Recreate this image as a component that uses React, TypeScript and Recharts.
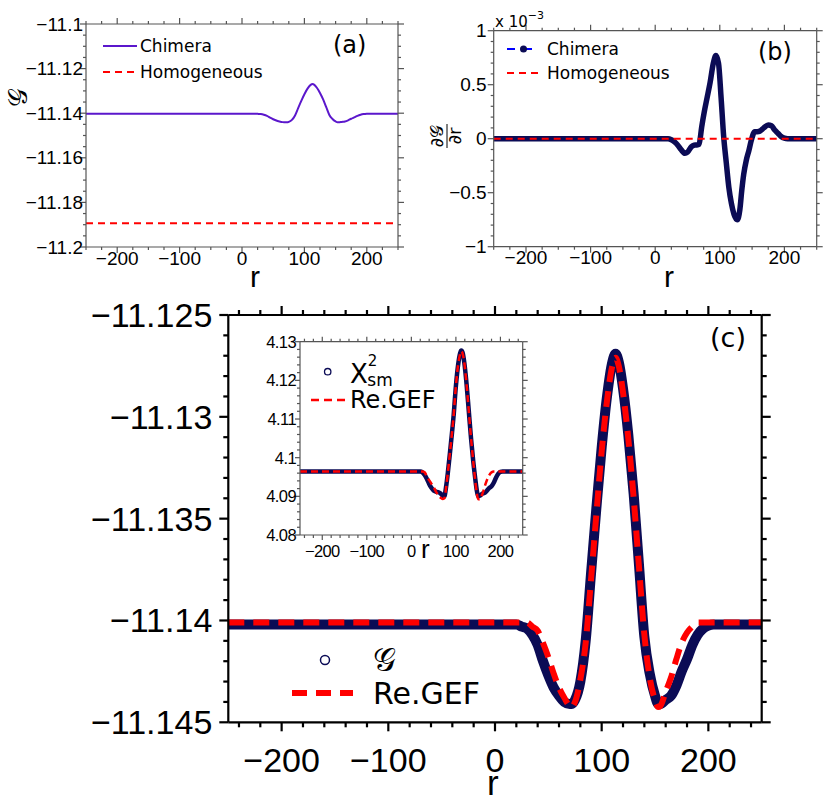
import React from 'react';
import { LineChart, Line, XAxis, YAxis } from 'recharts';

// ---- panel (a) / (c): G(r) for the chimera state and the Re.GEF fit
const rG = [
  -250, -200, -150, -100, -50, 0, 15, 20, 25, 30, 35, 40, 45, 50, 55, 60, 65, 70, 72, 75, 80, 85, 90, 95, 100,
  105, 110, 113, 116, 120, 125, 130, 135, 140, 145, 150, 153, 155, 160, 165, 170, 175, 180, 185, 190, 195, 200,
  205, 210, 220, 250,
];
const gChimera = [
  -11.1402, -11.1402, -11.1402, -11.1402, -11.1402, -11.1402, -11.1402, -11.1402, -11.1403, -11.1404, -11.1407,
  -11.1412, -11.142, -11.1427, -11.1433, -11.1437, -11.144, -11.1441, -11.1441, -11.1439, -11.143, -11.141,
  -11.1377, -11.1345, -11.1315, -11.129, -11.1273, -11.1269, -11.1273, -11.1286, -11.1309, -11.1338, -11.1373,
  -11.1408, -11.1426, -11.1437, -11.1441, -11.1441, -11.1439, -11.1437, -11.1432, -11.1425, -11.1419, -11.1412,
  -11.1407, -11.1404, -11.14025, -11.1402, -11.1402, -11.1402, -11.1402,
];
const gGEF = [
  -11.1401, -11.1401, -11.1401, -11.1401, -11.1401, -11.1401, -11.1401, -11.1401, -11.1401, -11.1401, -11.1403,
  -11.1405, -11.1411, -11.1418, -11.1426, -11.1433, -11.1438, -11.1442, -11.14425, -11.144, -11.1429, -11.1411,
  -11.138, -11.1348, -11.1317, -11.1292, -11.1275, -11.1271, -11.1275, -11.1288, -11.1311, -11.134, -11.1374,
  -11.1407, -11.1428, -11.1439, -11.14425, -11.1442, -11.1435, -11.1428, -11.1419, -11.1411, -11.1406, -11.1403,
  -11.1401, -11.1401, -11.1401, -11.1401, -11.1401, -11.1401, -11.1401,
];
const rHom = [-250, 250];
const gHomogeneous = [-11.1893, -11.1893];

// ---- panel (b): dG/dr, in units of 1e-3
const rB = [
  -250, -150, -50, 0, 10, 20, 25, 30, 35, 40, 46, 50, 56, 60, 64, 68, 72, 76, 80, 85, 90, 94, 98, 102, 106, 110,
  114, 118, 122, 127, 131, 134, 137, 141, 145, 149, 154, 158, 162, 168, 175, 180, 185, 190, 195, 200, 205, 210, 250,
];
const dGdr = [
  0, 0, 0, 0, 0, 0, -0.01, -0.03, -0.06, -0.1, -0.135, -0.125, -0.075, -0.06, -0.058, -0.05, 0.11, 0.25, 0.37,
  0.52, 0.7, 0.77, 0.7, 0.38, 0.02, -0.22, -0.45, -0.6, -0.7, -0.75, -0.66, -0.48, -0.33, -0.2, -0.11, -0.01,
  0.065, 0.065, 0.07, 0.1, 0.127, 0.12, 0.08, 0.05, 0.02, 0.005, 0, 0, 0,
];
const dHomogeneous = [0, 0];

// ---- inset: X^2_sm and Re.GEF
const rIn = [
  -250, -150, -50, 0, 15, 20, 25, 30, 35, 40, 45, 50, 55, 60, 65, 70, 74, 78, 82, 86, 90, 95, 100, 105, 110, 112,
  115, 119, 124, 129, 134, 139, 143, 147, 150, 154, 158, 162, 166, 170, 175, 180, 185, 190, 195, 200, 205, 250,
];
const x2sm = [
  4.0964, 4.0964, 4.0964, 4.0964, 4.0964, 4.0964, 4.0962, 4.0955, 4.0945, 4.0932, 4.0922, 4.0915, 4.0912, 4.0911,
  4.0908, 4.0902, 4.09, 4.0925, 4.0962, 4.1005, 4.105, 4.111, 4.1185, 4.124, 4.1272, 4.1277, 4.1272, 4.1245,
  4.119, 4.112, 4.105, 4.099, 4.095, 4.0915, 4.09, 4.0902, 4.0906, 4.0908, 4.091, 4.0915, 4.0922, 4.0926, 4.0935,
  4.0948, 4.0958, 4.0963, 4.0964, 4.0964,
];
const x2GEF = [
  4.0964, 4.0964, 4.0964, 4.0964, 4.0964, 4.0964, 4.0964, 4.0962, 4.095, 4.0942, 4.0933, 4.0924, 4.0913, 4.0903,
  4.0897, 4.0893, 4.0895, 4.0922, 4.0962, 4.1005, 4.105, 4.111, 4.1185, 4.124, 4.127, 4.1275, 4.127, 4.1245, 4.119,
  4.112, 4.105, 4.099, 4.0945, 4.0908, 4.0893, 4.0892, 4.0902, 4.0915, 4.093, 4.0943, 4.0955, 4.0962, 4.0964,
  4.0964, 4.0964, 4.0964, 4.0964, 4.0964,
];

// ---- ticks
const xMajor = [-200, -100, 0, 100, 200];
const yMajorA = [-11.2, -11.18, -11.16, -11.14, -11.12, -11.1];
const yMajorB = [-1, -0.5, 0, 0.5, 1];
const yMajorC = [-11.145, -11.14, -11.135, -11.13, -11.125];
const yMajorIn = [4.08, 4.09, 4.1, 4.11, 4.12, 4.13];

const NAVY = '#0b0b55';
const PURPLE = '#5b17cc';
const RED = '#ff0000';
const SANS = '"Liberation Sans", Arial, sans-serif';
const DEJA = '"DejaVu Sans", sans-serif';

const steps = (a: number, b: number, d: number) =>
  Array.from({ length: Math.round((b - a) / d) + 1 }, (_, i) => +(a + i * d).toFixed(6));

const rows = (xs: number[], vs: number[]) => xs.map((r, i) => ({ r, v: vs[i] }));

const fmt = (v: number) => String(+v.toFixed(4)).replace('-', '\u2212');

type Side = 'bottom' | 'left' | 'top' | 'right';
type Style = {
  majLen: number;
  minLen: number;
  color: string;
  lw: number;
  fs: number;
  ff: string;
  xOff: number;
  yOff: number;
  ls?: number;
};

const tickFor = (side: Side, majors: number[], s: Style, labels: boolean) => (props: any) => {
  const { x, y, payload } = props;
  const v = payload.value;
  const big = majors.some((m) => Math.abs(m - v) < 1e-7);
  const len = big ? s.majLen : s.minLen;
  const dx = side === 'left' ? -1 : side === 'right' ? 1 : 0;
  const dy = side === 'bottom' ? 1 : side === 'top' ? -1 : 0;
  return (
    <g>
      <line x1={x} y1={y} x2={x + dx * len} y2={y + dy * len} stroke={s.color} strokeWidth={s.lw} />
      {labels && big && (
        <text
          x={side === 'left' ? x - s.yOff : x}
          y={side === 'bottom' ? y + s.xOff : y}
          textAnchor={side === 'left' ? 'end' : 'middle'}
          dominantBaseline="central"
          fontSize={s.fs}
          fontFamily={s.ff}
          letterSpacing={s.ls}
          fill="#000"
        >
          {fmt(v)}
        </text>
      )}
    </g>
  );
};

// four framed axes with outward major/minor ticks; each axis is 1px thick,
// so chart margins are the plot edges minus 1
function frame(
  xDom: [number, number],
  yDom: [number, number],
  xTicks: number[],
  yTicks: number[],
  xMaj: number[],
  yMaj: number[],
  s: Style,
  firstSeries: { r: number; v: number }[]
) {
  const axisLine = { stroke: s.color, strokeWidth: s.lw };
  const common = { tickSize: 0, tickMargin: 0, tickLine: false, interval: 0 as const, allowDataOverflow: true, axisLine };
  return [
    <XAxis key="xb" xAxisId="b" type="number" dataKey="r" domain={xDom} ticks={xTicks} height={1} orientation="bottom" tick={tickFor('bottom', xMaj, s, true)} {...common} />,
    <XAxis key="xt" xAxisId="t" type="number" dataKey="r" domain={xDom} ticks={xTicks} height={1} orientation="top" tick={tickFor('top', xMaj, s, false)} {...common} />,
    <YAxis key="yl" yAxisId="l" type="number" domain={yDom} ticks={yTicks} width={1} orientation="left" tick={tickFor('left', yMaj, s, true)} {...common} />,
    <YAxis key="yr" yAxisId="rt" type="number" domain={yDom} ticks={yTicks} width={1} orientation="right" tick={tickFor('right', yMaj, s, false)} {...common} />,
    <Line key="dummy" xAxisId="t" yAxisId="rt" data={firstSeries} dataKey="v" stroke="none" dot={false} isAnimationActive={false} />,
  ];
}

const styleTop: Style = { majLen: 6, minLen: 3, color: '#555', lw: 1.2, fs: 19, ff: SANS, xOff: 11, yOff: 3 };
const styleB: Style = { ...styleTop, yOff: 7 };
const styleC: Style = { majLen: 9, minLen: 5, color: '#000', lw: 2.2, fs: 34, ff: SANS, xOff: 38, yOff: 16 };
const styleIn: Style = { majLen: 5, minLen: 3, color: '#555', lw: 1.2, fs: 16.5, ff: SANS, xOff: 16, yOff: 4, ls: -0.6 };

function PanelA() {
  const g = rows(rG, gChimera);
  return (
    <LineChart width={415} height={290} margin={{ top: 23, right: 16, bottom: 42, left: 85 }}>
      {frame([-250, 250], [-11.2, -11.1], steps(-250, 250, 25), steps(-11.2, -11.1, 0.005), xMajor, yMajorA, styleTop, g)}
      <Line xAxisId="b" yAxisId="l" data={rows(rHom, gHomogeneous)} dataKey="v" stroke={RED} strokeWidth={2} strokeDasharray="7 5" dot={false} isAnimationActive={false} />
      <Line xAxisId="b" yAxisId="l" data={g} dataKey="v" type="monotone" stroke={PURPLE} strokeWidth={2} dot={false} isAnimationActive={false} />
    </LineChart>
  );
}

function PanelB() {
  const d = rows(rB, dGdr);
  return (
    <LineChart width={415} height={290} margin={{ top: 29.7, right: 12.3, bottom: 42.3, left: 77.7 }}>
      {frame([-250, 250], [-1, 1], steps(-250, 250, 25), steps(-1, 1, 0.1), xMajor, yMajorB, styleB, d)}
      <Line xAxisId="b" yAxisId="l" data={d} dataKey="v" type="monotone" stroke={NAVY} strokeWidth={5.5} strokeLinecap="round" strokeLinejoin="round" dot={false} isAnimationActive={false} />
      <Line xAxisId="b" yAxisId="l" data={rows(rHom, dHomogeneous)} dataKey="v" stroke={RED} strokeWidth={2} strokeDasharray="7 5" dot={false} isAnimationActive={false} />
    </LineChart>
  );
}

function PanelC() {
  const g = rows(rG, gChimera);
  return (
    <LineChart width={830} height={511} margin={{ top: 24, right: 67.3, bottom: 77.7, left: 227.3 }}>
      {frame([-250, 250], [-11.145, -11.125], steps(-240, 240, 20), steps(-11.145, -11.125, 0.001), xMajor, yMajorC, styleC, g)}
      <Line xAxisId="b" yAxisId="l" data={g} dataKey="v" type="monotone" stroke={NAVY} strokeWidth={10} strokeLinecap="round" dot={false} isAnimationActive={false} />
      <Line xAxisId="b" yAxisId="l" data={rows(rG, gGEF)} dataKey="v" type="monotone" stroke={RED} strokeWidth={6} strokeDasharray="16 9" dot={false} isAnimationActive={false} />
    </LineChart>
  );
}

function Inset() {
  const x = rows(rIn, x2sm);
  return (
    <LineChart width={300} height={280} margin={{ top: 40.7, right: 16.3, bottom: 44, left: 59 }}>
      {frame([-250, 250], [4.08, 4.13], steps(-240, 240, 20), steps(4.08, 4.13, 0.002), xMajor, yMajorIn, styleIn, x)}
      <Line xAxisId="b" yAxisId="l" data={x} dataKey="v" type="monotone" stroke={NAVY} strokeWidth={4.5} strokeLinecap="round" dot={false} isAnimationActive={false} />
      <Line xAxisId="b" yAxisId="l" data={rows(rIn, x2GEF)} dataKey="v" type="monotone" stroke={RED} strokeWidth={2.5} strokeDasharray="7 4" dot={false} isAnimationActive={false} />
    </LineChart>
  );
}

export default function App() {
  const abs = (left: number, top: number): React.CSSProperties => ({ position: 'absolute', left, top });
  return (
    <div style={{ position: 'absolute', left: 0, top: 0, width: 830, height: 801, background: '#fff', overflow: 'hidden' }}>
      <div style={abs(0, 0)}><PanelA /></div>
      <div style={abs(415, 0)}><PanelB /></div>
      <div style={abs(0, 290)}><PanelC /></div>
      <div style={abs(240, 300)}><Inset /></div>
      <svg width={830} height={801} style={{ position: 'absolute', left: 0, top: 0, pointerEvents: 'none' }}>
        {/* panel (a) */}
        <line x1={103} y1={46} x2={137} y2={46} stroke={PURPLE} strokeWidth={2} />
        <text x={140} y={46} dominantBaseline="central" fontSize={17} fontFamily={DEJA}>Chimera</text>
        <line x1={103} y1={72} x2={137} y2={72} stroke={RED} strokeWidth={2} strokeDasharray="7 5" />
        <text x={140} y={72} dominantBaseline="central" fontSize={17} fontFamily={DEJA}>Homogeneous</text>
        <text x={333} y={45} dominantBaseline="central" fontSize={24} fontFamily={DEJA}>(a)</text>
        <text x={18} y={97} transform="rotate(-90 18 97)" textAnchor="middle" dominantBaseline="central" fontSize={26} fontFamily={DEJA}>𝒢</text>
        <text x={250} y={287} fontSize={30} fontFamily={SANS}>r</text>

        {/* panel (b) */}
        <line x1={507} y1={49} x2={540} y2={49} stroke="#0000ff" strokeWidth={2} strokeDasharray="8 9" />
        <circle cx={523.5} cy={49} r={3.5} fill={NAVY} />
        <text x={547} y={49} dominantBaseline="central" fontSize={17} fontFamily={DEJA}>Chimera</text>
        <line x1={507} y1={73} x2={540} y2={73} stroke={RED} strokeWidth={2} strokeDasharray="7 5" />
        <text x={547} y={73} dominantBaseline="central" fontSize={17} fontFamily={DEJA}>Homogeneous</text>
        <text x={758} y={52} dominantBaseline="central" fontSize={24} fontFamily={DEJA}>(b)</text>
        <text x={495} y={27} fontSize={15} fontFamily={DEJA}>
          x 10<tspan dy={-8} fontSize={11}>−3</tspan>
        </text>
        <g transform="translate(447 136) rotate(-90)">
          <text x={0} y={-4} textAnchor="middle" fontSize={18} fontFamily={DEJA}>∂𝒢</text>
          <line x1={-12} x2={12} y1={0} y2={0} stroke="#000" strokeWidth={1} />
          <text x={0} y={14} textAnchor="middle" fontSize={18} fontFamily={DEJA}>∂r</text>
        </g>
        <text x={664} y={287} fontSize={30} fontFamily={SANS}>r</text>

        {/* panel (c) */}
        <text x={710} y={337} dominantBaseline="central" fontSize={27} fontFamily={DEJA}>(c)</text>
        <circle cx={325} cy={660} r={4.5} fill="none" stroke={NAVY} strokeWidth={1.5} />
        <text x={373} y={660} dominantBaseline="central" fontSize={32} fontFamily={DEJA}>𝒢</text>
        <line x1={292} y1={693} x2={353} y2={693} stroke={RED} strokeWidth={6} strokeDasharray="15 9" />
        <text x={373} y={693} dominantBaseline="central" fontSize={30} fontFamily={DEJA}>Re.GEF</text>
        <text x={487} y={795} fontSize={35} fontFamily={SANS}>r</text>

        {/* inset */}
        <circle cx={327.7} cy={371.7} r={3.2} fill="none" stroke={NAVY} strokeWidth={1.3} />
        <text x={350} y={383} fontSize={26} fontFamily={DEJA}>
          X<tspan dy={-17} fontSize={15}>2</tspan>
          <tspan dx={-10} dy={20} fontSize={17}>sm</tspan>
        </text>
        <line x1={311} y1={400} x2={345} y2={400} stroke={RED} strokeWidth={2.5} strokeDasharray="8 5" />
        <text x={350} y={400} dominantBaseline="central" fontSize={24} fontFamily={DEJA}>Re.GEF</text>
        <text x={421} y={558} fontSize={26} fontFamily={SANS}>r</text>
      </svg>
    </div>
  );
}
